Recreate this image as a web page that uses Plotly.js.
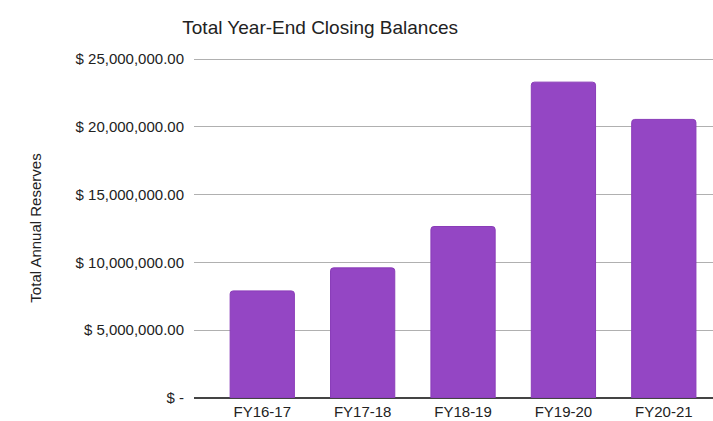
<!DOCTYPE html>
<html>
<head>
<meta charset="utf-8">
<script src="https://cdn.plot.ly/plotly-3.0.1.min.js"></script>
<style>html,body{margin:0;padding:0;background:#fff;}#chart{width:713px;height:421px;}</style>
</head>
<body>
<div id="chart"></div>
<script>
const categories = ["FY16-17", "FY17-18", "FY18-19", "FY19-20", "FY20-21"];
const balances = [7900000, 9600000, 12650000, 23300000, 20550000];
const yTickVals = [0, 5000000, 10000000, 15000000, 20000000, 25000000];
const yTickText = ["$ -", "$ 5,000,000.00", "$ 10,000,000.00", "$ 15,000,000.00", "$ 20,000,000.00", "$ 25,000,000.00"];

const trace = {
  type: "bar",
  x: categories,
  y: balances,
  width: 0.64,
  marker: {color: "#9446c4", line: {color: "#8a3cb8", width: 1}, cornerradius: 3},
  hoverinfo: "x+y"
};

const layout = {
  width: 713, height: 421,
  margin: {l: 194, r: 0, t: 58, b: 23},
  paper_bgcolor: "#fff", plot_bgcolor: "#fff",
  font: {family: "Liberation Sans, Arial, sans-serif", color: "#222", size: 15},
  title: {text: "Total Year-End Closing Balances", font: {family: "Liberation Sans, Arial", size: 19, color: "#222"},
          x: 0.449, xref: "container", xanchor: "center", y: 0.935, yref: "container", yanchor: "middle"},
  xaxis: {type: "category", range: [-0.68, 4.49], showgrid: false, zeroline: false, showline: false,
          ticks: "", ticklabelstandoff: 3, tickfont: {size: 15, color: "#222"}},
  yaxis: {range: [0, 25080000], tickvals: yTickVals, ticktext: yTickText, tickfont: {size: 15, color: "#222"},
          gridcolor: "#b0b0b0", gridwidth: 1, zeroline: true, zerolinecolor: "#444", zerolinewidth: 1.5,
          showline: false, ticks: "", ticklabelstandoff: 9,
          title: {text: "Total Annual Reserves", font: {size: 15, color: "#222"}, standoff: 30}},
  showlegend: false,
  bargap: 0.36
};

Plotly.newPlot("chart", [trace], layout, {displayModeBar: false, staticPlot: true});
</script>
</body>
</html>
